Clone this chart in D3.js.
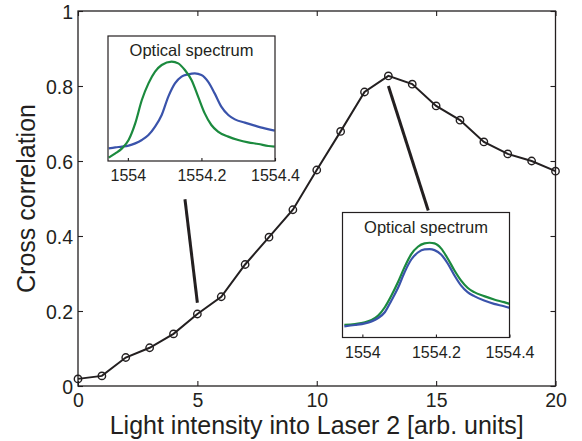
<!DOCTYPE html>
<html>
<head>
<meta charset="utf-8">
<script src="https://cdn.jsdelivr.net/npm/d3@7"></script>
<style>
  body { margin: 0; background: #fff; }
  svg { display: block; font-family: "Liberation Sans", Arial, sans-serif; }
</style>
</head>
<body>
<div id="chart"></div>
<script>
// Main series: cross correlation vs light intensity
const intensity = [0, 1, 2, 3, 4, 5, 6, 7, 8, 9, 10, 11, 12, 13, 14, 15, 16, 17, 18, 19, 20];
const crossCorr = [0.019, 0.027, 0.076, 0.102, 0.139, 0.192, 0.238, 0.324, 0.397, 0.470, 0.576,
  0.679, 0.784, 0.827, 0.805, 0.747, 0.709, 0.651, 0.619, 0.600, 0.573];

const xTicks = [0, 5, 10, 15, 20];
const yTicks = [0, 0.2, 0.4, 0.6, 0.8, 1];
const yTickLabels = ["0", "0.2", "0.4", "0.6", "0.8", "1"];

// Inset spectra (normalised inset height)
const inset1GreenWl = [1553.948, 1553.966, 1553.984, 1554.002, 1554.020, 1554.038, 1554.056, 1554.074,
  1554.092, 1554.119, 1554.137, 1554.155, 1554.173, 1554.191, 1554.209, 1554.227, 1554.245, 1554.273,
  1554.300, 1554.327, 1554.355, 1554.382, 1554.399];
const inset1Green = [0.027, 0.061, 0.101, 0.168, 0.301, 0.488, 0.621, 0.715, 0.768, 0.795, 0.781, 0.728,
  0.648, 0.515, 0.381, 0.288, 0.235, 0.195, 0.168, 0.149, 0.136, 0.120, 0.115];
const inset1BlueWl = [1553.948, 1553.966, 1553.984, 1554.002, 1554.020, 1554.038, 1554.056, 1554.074,
  1554.092, 1554.110, 1554.128, 1554.146, 1554.164, 1554.182, 1554.200, 1554.218, 1554.236, 1554.254,
  1554.273, 1554.291, 1554.318, 1554.345, 1554.372, 1554.399];
const inset1Blue = [0.101, 0.109, 0.115, 0.123, 0.141, 0.168, 0.208, 0.275, 0.368, 0.515, 0.621, 0.675,
  0.693, 0.701, 0.688, 0.635, 0.541, 0.435, 0.368, 0.333, 0.307, 0.283, 0.261, 0.243];

const inset2Wl = [1553.951, 1553.980, 1554.007, 1554.025, 1554.043, 1554.061, 1554.079, 1554.097,
  1554.115, 1554.133, 1554.151, 1554.169, 1554.183, 1554.196, 1554.214, 1554.232, 1554.250, 1554.268,
  1554.286, 1554.304, 1554.331, 1554.358, 1554.385, 1554.401];
const inset2Green = [0.102, 0.108, 0.121, 0.140, 0.175, 0.242, 0.336, 0.444, 0.565, 0.667, 0.726, 0.753,
  0.758, 0.753, 0.713, 0.632, 0.538, 0.457, 0.398, 0.363, 0.331, 0.304, 0.283, 0.269];
const inset2Blue = [0.089, 0.100, 0.113, 0.129, 0.156, 0.202, 0.296, 0.398, 0.524, 0.624, 0.680, 0.705,
  0.707, 0.699, 0.664, 0.592, 0.498, 0.417, 0.363, 0.331, 0.296, 0.269, 0.250, 0.237];
const insetTicks = [1554, 1554.2, 1554.4];
const insetTickLabels = ["1554", "1554.2", "1554.4"];

// Pointer lines in data coordinates [x1, y1, x2, y2]
const pointers = [[4.48, 0.498, 5.0, 0.222], [13.0, 0.80, 14.67, 0.468]];

const ink = "#231f20";
const green = "#1b8a3e";
const blue = "#3a53ab";

const W = 582, H = 441;
const margin = { top: 11, right: 26.5, bottom: 55, left: 78 };
const width = W - margin.left - margin.right;
const height = H - margin.top - margin.bottom;

const svg = d3.select("#chart").append("svg")
  .attr("width", W)
  .attr("height", H);

const g = svg.append("g")
  .attr("transform", "translate(" + margin.left + "," + margin.top + ")");

const x = d3.scaleLinear().domain([0, 20]).range([0, width]);
const y = d3.scaleLinear().domain([0, 1]).range([height, 0]);

// frame ticks (inward) on all four sides
function styleAxis(sel) {
  sel.select(".domain").remove();
  sel.selectAll(".tick line").attr("stroke", ink).attr("stroke-width", 1.1);
}
g.append("g").attr("transform", "translate(0," + height + ")")
  .call(d3.axisBottom(x).tickValues(xTicks).tickSizeInner(-5).tickSizeOuter(0))
  .call(styleAxis)
  .call(s => s.selectAll(".tick text").attr("font-size", 19.5).attr("fill", ink).attr("dy", 0).attr("y", 20.5));
g.append("g")
  .call(d3.axisTop(x).tickValues(xTicks).tickSizeInner(-5).tickSizeOuter(0).tickFormat(""))
  .call(styleAxis);
g.append("g")
  .call(d3.axisLeft(y).tickValues(yTicks).tickSizeInner(-5).tickSizeOuter(0)
    .tickFormat((d, i) => yTickLabels[i]))
  .call(styleAxis)
  .call(s => s.selectAll(".tick text").attr("font-size", 19.5).attr("fill", ink).attr("x", -5).attr("dy", "0.36em"));
g.append("g").attr("transform", "translate(" + width + ",0)")
  .call(d3.axisRight(y).tickValues(yTicks).tickSizeInner(-5).tickSizeOuter(0).tickFormat(""))
  .call(styleAxis);

g.append("rect")
  .attr("width", width).attr("height", height)
  .attr("fill", "none").attr("stroke", ink).attr("stroke-width", 1.3);

// main line + markers
const pts = intensity.map((d, i) => ({ x: d, y: crossCorr[i] }));
g.append("path")
  .datum(pts)
  .attr("fill", "none")
  .attr("stroke", ink)
  .attr("stroke-width", 2)
  .attr("d", d3.line().x(d => x(d.x)).y(d => y(d.y)));
g.selectAll("circle.pt").data(pts).enter().append("circle")
  .attr("class", "pt")
  .attr("cx", d => x(d.x)).attr("cy", d => y(d.y))
  .attr("r", 3.7)
  .attr("fill", "none")
  .attr("stroke", ink)
  .attr("stroke-width", 1.4);

// pointer lines
g.selectAll("line.ptr").data(pointers).enter().append("line")
  .attr("class", "ptr")
  .attr("x1", d => x(d[0])).attr("y1", d => y(d[1]))
  .attr("x2", d => x(d[2])).attr("y2", d => y(d[3]))
  .attr("stroke", ink).attr("stroke-width", 3);

// axis labels
svg.append("text")
  .attr("x", margin.left + width / 2).attr("y", 434)
  .attr("text-anchor", "middle").attr("font-size", 25).attr("fill", ink)
  .text("Light intensity into Laser 2 [arb. units]");
svg.append("text")
  .attr("transform", "translate(35," + (margin.top + height / 2) + ") rotate(-90)")
  .attr("text-anchor", "middle").attr("font-size", 25).attr("fill", ink)
  .text("Cross correlation");

// insets
const insetW = 167, insetH = 125;
function drawInset(left, top, id, series) {
  const ig = svg.append("g").attr("transform", "translate(" + left + "," + top + ")");
  const ix = d3.scaleLinear().domain([1553.946, 1554.4]).range([0, insetW]);
  const iy = d3.scaleLinear().domain([0, 1]).range([insetH, 0]);

  ig.append("rect").attr("width", insetW).attr("height", insetH).attr("fill", "#fff");
  ig.append("clipPath").attr("id", id).append("rect").attr("width", insetW).attr("height", insetH);

  const line = d3.line().x(d => ix(d[0])).y(d => iy(d[1])).curve(d3.curveMonotoneX);
  series.forEach(s => {
    ig.append("path")
      .datum(s.wl.map((w, i) => [w, s.v[i]]))
      .attr("clip-path", "url(#" + id + ")")
      .attr("fill", "none")
      .attr("stroke", s.color)
      .attr("stroke-width", 2.2)
      .attr("d", line);
  });

  ig.append("g").attr("transform", "translate(0," + insetH + ")")
    .call(d3.axisBottom(ix).tickValues(insetTicks).tickSizeInner(-3).tickSizeOuter(0)
      .tickFormat((d, i) => insetTickLabels[i]))
    .call(styleAxis)
    .call(s => s.selectAll(".tick text").attr("font-size", 16).attr("fill", ink).attr("dy", 0).attr("y", 20));

  ig.append("rect").attr("width", insetW).attr("height", insetH)
    .attr("fill", "none").attr("stroke", ink).attr("stroke-width", 1.2);

  ig.append("text")
    .attr("x", insetW / 2).attr("y", 20)
    .attr("text-anchor", "middle").attr("font-size", 16.5).attr("fill", ink)
    .text("Optical spectrum");
}

drawInset(108, 36, "clip1", [
  { wl: inset1BlueWl, v: inset1Blue, color: blue },
  { wl: inset1GreenWl, v: inset1Green, color: green }
]);
drawInset(342.5, 212.5, "clip2", [
  { wl: inset2Wl, v: inset2Green, color: green },
  { wl: inset2Wl, v: inset2Blue, color: blue }
]);
</script>
</body>
</html>
